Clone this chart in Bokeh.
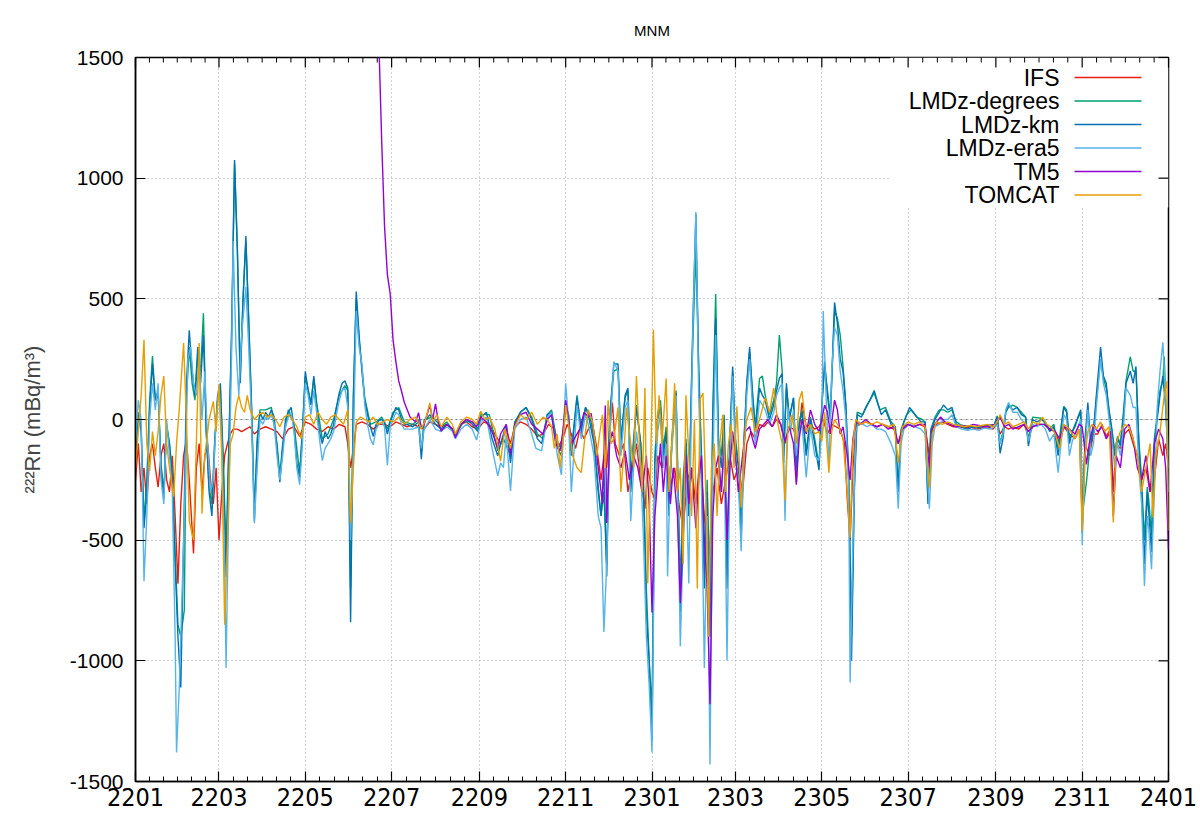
from bokeh.plotting import figure
from bokeh.models import Range1d, FixedTicker, Span, BoxAnnotation, Label
from bokeh.embed import file_html
from bokeh.resources import INLINE

TITLE = "MNM"
Y_LABEL = "²²²Rn (mBq/m³)"
# x is days since 2022-01-01
TICK_DAYS = [0, 59, 120, 181, 243, 304, 365, 424, 485, 546, 608, 669, 730]
TICK_LABELS = ["2201", "2203", "2205", "2207", "2209", "2211", "2301",
               "2303", "2305", "2307", "2309", "2311", "2401"]
Y_TICKS = [-1500, -1000, -500, 0, 500, 1000, 1500]
Y_TICK_LABELS = ["-1500", "-1000", "-500", "0", "500", "1000", "1500"]
NAMES = ["IFS", "LMDz-degrees", "LMDz-km", "LMDz-era5", "TM5", "TOMCAT"]
COLORS = ["#e51e10", "#009e73", "#0072b2", "#56b4e9", "#9400d3", "#e69f00"]

IFS = [
(0,-250),(2,-100),(4,-300),(6,-200),(8,-350),(10,-150),(12,-100),(14,-200),(16,-280),(18,-150),
(20,-100),(22,-250),(24,-300),(26,-150),(28,-400),(30,-680),(32,-350),(34,-150),(36,-80),(38,-250),
(41,-555),(43,-200),(45,-100),(47,-300),(49,-150),(51,-100),(53,-250),(55,-350),(57,-200),(59,-500),
(61,-300),(63,-150),(65,-100),(67,-60),(69,-40),(72,-40),(75,-50),(78,-40),(81,-30),(84,-60),
(88,-40),(92,-30),(96,-40),(100,-50),(104,-80),(108,-40),(112,-30),(116,-70),(120,-10),(124,-20),
(128,-40),(132,-50),(136,-30),(140,-40),(144,-20),(148,-30),(150,-100),(152,-200),(154,-120),(156,-20),
(160,-10),(164,-20),(168,-40),(172,-20),(176,-20),(180,-30),(184,-10),(188,-20),(192,-30),(196,-20),
(200,-30),(204,-40),(208,-10),(212,-20),(216,-30),(220,-20),(224,-40),(226,-60),(230,-20),(234,-10),
(238,-30),(242,-40),(246,-10),(250,-20),(254,-60),(258,-100),(262,-40),(265,-100),(268,-30),(272,-10),
(276,-20),(280,-40),(284,-70),(288,-60),(292,-20),(296,-40),(299,-110),(302,-80),(305,-20),(308,-60),
(311,-120),(314,-40),(317,-80),(320,-40),(323,-20),(326,-120),(329,-250),(331,-150),(333,-200),(335,-50),
(337,70),(339,-100),(342,-150),(345,-100),(348,-300),(351,-200),(354,-100),(357,-250),(360,-370),(362,-200),
(365,-300),(367,-330),(369,-150),(372,-200),(375,-100),(378,-280),(381,-200),(384,-350),(387,-450),(390,-250),
(393,-200),(396,-350),(399,-150),(402,-400),(405,-600),(408,-300),(411,-200),(414,-350),(417,-250),(420,-150),
(423,-250),(426,-200),(429,-300),(432,-100),(435,-50),(438,-80),(441,-20),(444,-30),(447,-10),(450,-30),
(453,0),(456,-20),(459,-100),(462,-30),(465,-40),(468,-100),(471,70),(474,-30),(477,-20),(480,-40),
(483,-30),(486,0),(489,-60),(492,-20),(495,-30),(498,-40),(501,-100),(503,-330),(505,-500),(507,-200),
(509,-30),(512,-20),(516,-10),(520,-20),(524,-30),(528,-20),(532,-30),(536,-40),(539,-100),(542,-30),
(546,-20),(550,-30),(554,-20),(558,-30),(561,-150),(563,-40),(566,-20),(570,-10),(574,-20),(578,-30),
(582,-30),(586,-35),(590,-30),(594,-40),(598,-35),(602,-30),(606,-40),(609,-20),(611,-60),(614,-30),
(617,-40),(620,-30),(624,-40),(628,-20),(631,-70),(634,-30),(638,-20),(642,-20),(646,-40),(650,-50),
(653,-100),(656,-30),(660,-60),(664,-80),(667,-40),(669,-420),(671,-100),(674,-150),(677,-60),(680,-60),
(683,-20),(686,-70),(689,-40),(691,-300),(693,-100),(696,-120),(699,-60),(702,-40),(705,-100),(708,-150),
(711,-250),(714,-200),(717,-300),(720,-250),(723,-80),(726,-150),(728,-100),(730,-200),
]

LMDZ_DEGREES = [
(0,-120),(2,30),(4,-30),(6,-420),(8,-250),(10,80),(12,263),(14,80),(16,100),(18,-180),
(20,-300),(22,-20),(24,-100),(26,-220),(28,-550),(30,-850),(32,-900),(34.5,-789),(36,100),(38,300),
(40,150),(42,80),(44,260),(46,200),(48,440),(50,-50),(52,-280),(54,-350),(56,-80),(58,80),
(60,120),(62,-150),(64,-550),(66,-100),(68,350),(70,1060),(72,700),(74,180),(76,500),(78,740),
(80,420),(82,60),(84,-380),(86,-80),(88,40),(92,40),(96,50),(100,-100),(102,-230),(104,-100),
(108,40),(112,-20),(116,-220),(118,-40),(120,180),(124,70),(126,170),(128,70),(132,-80),(136,-60),
(140,0),(144,100),(148,140),(150,120),(152,-700),(154,100),(156,500),(158,330),(160,220),(162,90),
(166,-20),(170,-10),(174,10),(178,-40),(182,30),(186,50),(190,-10),(196,-20),(200,0),(202,-130),
(204,0),(210,10),(216,-30),(220,-10),(226,-60),(232,-10),(238,-10),(242,-40),(244,20),(250,20),
(256,-130),(260,-80),(265,-150),(268,-10),(272,30),(276,50),(280,10),(284,-60),(288,-80),(291,20),
(294,40),(298,-100),(301,-120),(304,60),(306,20),(308,-130),(312,100),(315,-40),(318,50),(321,20),
(324,-80),(327,-280),(329,-400),(331,-300),(333,-600),(335,0),(338,200),(341,210),(343,-80),(346,90),
(348,120),(350,-250),(352,-80),(354,60),(357,-100),(359,-250),(361,-700),(363,-1000),(365,-1200),(367,-150),
(369,20),(371,80),(373,-120),(375,-30),(377,-350),(379,-80),(382,120),(385,-700),(387,-250),(389,-80),
(391,-350),(393,160),(394,350),(396,700),(398,220),(400,-150),(402,-600),(404,-250),(406,-800),(408,50),
(410,520),(412,-80),(414,-150),(416,20),(418,-600),(420,-80),(422,200),(424,-80),(426,-180),(428,-450),
(430,-80),(432,150),(434,280),(436,120),(438,-30),(441,170),(443,180),(445,100),(448,20),(451,80),
(453,150),(455,350),(457,200),(458,-150),(460,130),(462,10),(465,90),(467,-260),(469,-10),(471,40),
(474,-130),(477,10),(480,-80),(483,-190),(485,60),(487,220),(489,120),(491,20),(494,450),(496,420),
(498,350),(500,220),(502,60),(504,-230),(506,-900),(508,-250),(510,30),(514,20),(518,70),(522,110),
(526,40),(530,50),(534,-10),(537,-30),(539,-280),(541,-40),(545,20),(548,40),(552,10),(556,0),
(558,-10),(560,-330),(562,-40),(565,10),(568,40),(571,40),(574,30),(577,40),(580,-10),(584,-25),
(590,-30),(596,-30),(602,-25),(607,-20),(609,15),(611,-100),(613,-50),(615,30),(617,50),(620,60),
(623,50),(626,30),(629,10),(631,-90),(634,10),(640,5),(646,-40),(649,-20),(652,-120),(654,-30),
(656,55),(658,40),(660,-80),(664,-20),(668,30),(669,-400),(672,-260),(675,-80),(677,-40),(679,80),
(682,250),(684,170),(686,130),(688,40),(690,-40),(692,-130),(694,-70),(696,-100),(698,20),(700,160),
(703,260),(705,200),(707,200),(709,-80),(711,-250),(713,-500),(715,-280),(716,-330),(718,-480),(720,-80),
(722,20),(724,120),(726,160),(727,260),(728,80),(730,-150),
]

LMDZ_KM = [
(0,-150),(2,20),(4,-50),(6,-450),(8,-300),(10,50),(12,230),(14,80),(16,120),(18,-200),
(20,-330),(22,-30),(24,-100),(26,-250),(28,-600),(30,-900),(32,-1110),(34,-500),(36,150),(38,370),
(40,200),(42,100),(44,300),(46,150),(48,350),(50,-50),(52,-300),(54,-400),(56,-100),(58,100),
(60,150),(62,-200),(64,-650),(66,-100),(68,400),(70,1075),(72,700),(74,150),(76,500),(78,760),
(80,400),(82,50),(84,-420),(86,-100),(88,30),(90,0),(92,30),(94,10),(96,40),(98,10),
(100,-120),(102,-260),(104,-120),(106,0),(108,30),(110,50),(112,-30),(114,-180),(116,-240),(118,-50),
(120,200),(122,120),(124,60),(126,180),(128,60),(130,-50),(132,-100),(134,-50),(136,-80),(138,-60),
(140,-20),(142,50),(144,110),(146,150),(148,160),(150,130),(152,-840),(154,100),(156,530),(158,350),
(160,200),(162,80),(164,20),(166,-30),(168,-70),(170,-20),(172,-5),(174,0),(176,-10),(178,-60),
(180,-10),(182,20),(184,50),(186,40),(188,0),(190,-20),(192,-20),(196,-30),(200,-10),(202,-165),
(204,-10),(208,20),(212,-20),(216,-40),(220,-20),(224,-40),(226,-70),(230,-20),(234,0),(238,-20),
(242,-50),(244,10),(248,30),(252,-80),(256,-150),(258,-100),(262,-20),(265,-180),(268,-20),(272,30),
(276,50),(280,0),(284,-80),(287,-100),(291,20),(294,30),(298,-115),(301,-150),(304,60),(306,20),
(308,-150),(312,90),(315,-50),(318,50),(320,20),(324,-100),(327,-300),(329,-400),(331,-200),(333,-650),
(335,0),(338,230),(341,230),(343,-100),(346,100),(348,130),(350,-300),(352,-100),(354,50),(357,-100),
(359,-300),(361,-800),(363,-1000),(365,-1330),(367,-200),(369,0),(371,50),(373,-150),(375,-50),(377,-400),
(379,-100),(382,110),(385,-800),(387,-300),(389,-100),(391,-400),(393,180),(394,430),(396,850),(398,200),
(400,-200),(402,-700),(404,-300),(406,-900),(408,0),(410,420),(412,-100),(414,-200),(416,0),(418,-700),
(420,-100),(422,220),(424,-100),(426,-200),(428,-500),(430,-100),(432,150),(434,300),(436,100),(438,-50),
(441,130),(443,100),(445,80),(448,0),(451,60),(453,120),(455,170),(457,190),(458,-180),(460,150),
(462,0),(465,90),(467,-200),(469,-20),(471,30),(474,-150),(477,0),(480,-100),(483,-210),(485,50),
(487,240),(489,100),(491,0),(494,485),(496,400),(498,250),(500,200),(502,50),(504,-250),(506,-1000),
(508,-300),(510,20),(513,10),(516,50),(519,80),(522,120),(524,80),(527,20),(530,40),(534,-20),
(537,-40),(539,-300),(541,-60),(543,-10),(547,50),(551,20),(555,-10),(558,-10),(560,-350),(562,-50),
(565,0),(568,30),(571,60),(574,40),(577,50),(580,-20),(584,-30),(588,-40),(592,-30),(596,-35),
(600,-25),(604,-30),(607,-20),(609,10),(611,-140),(613,-80),(615,30),(617,60),(620,40),(623,50),
(626,20),(629,10),(631,-110),(634,0),(637,-10),(640,0),(643,-10),(646,-50),(649,-30),(652,-150),
(654,-50),(656,50),(658,30),(660,-100),(662,-50),(664,-30),(666,10),(668,40),(669,-470),(671,-80),
(673,70),(675,-100),(677,-50),(679,100),(682,300),(684,180),(686,150),(688,30),(690,-50),(692,-150),
(694,-80),(696,-110),(698,0),(700,150),(703,200),(705,150),(707,220),(709,-100),(711,-290),(713,-600),
(715,-300),(716,-380),(718,-550),(720,-100),(722,0),(724,100),(726,180),(728,50),(730,-200),
]

LMDZ_ERA5 = [
(0,-100),(2,80),(4,0),(6,-670),(8,-400),(10,0),(12,150),(14,40),(16,150),(18,-250),
(20,-350),(22,0),(24,-150),(26,-300),(28,-900),(29,-1380),(31,-1100),(33,-700),(35,-300),(37,250),
(39,300),(41,150),(43,100),(45,250),(47,0),(49,200),(51,-100),(53,-300),(55,-250),(57,0),
(59,145),(61,-100),(63,-600),(64,-1030),(66,-300),(68,300),(69,740),(71,300),(73,100),(75,350),
(78,550),(80,300),(82,0),(84,-430),(86,-200),(88,0),(90,-20),(92,10),(94,0),(96,20),
(98,-20),(100,-150),(102,-250),(104,-150),(106,-30),(108,10),(110,30),(112,-50),(114,-200),(116,-270),
(118,-100),(120,150),(122,100),(124,20),(126,120),(128,30),(130,-80),(132,-170),(134,-120),(136,-100),
(138,-80),(140,-50),(142,20),(144,80),(146,120),(148,130),(150,50),(152,-500),(154,-100),(156,450),
(158,300),(160,230),(162,60),(164,-20),(166,-80),(168,-105),(170,-40),(172,-20),(174,-10),(176,-30),
(178,-190),(180,-30),(182,0),(184,30),(186,20),(188,-20),(190,-40),(192,-40),(196,-40),(200,-30),
(202,-120),(204,-40),(208,0),(212,-40),(216,-50),(220,-30),(224,-50),(226,-80),(230,-40),(234,-20),
(238,-40),(241,-85),(244,-10),(248,10),(252,-120),(256,-234),(258,-180),(260,-200),(262,-60),(265,-296),
(268,-40),(272,0),(276,10),(280,-60),(283,-120),(287,-130),(291,10),(294,30),(298,-145),(301,-230),
(304,150),(306,0),(308,-300),(312,60),(315,-80),(318,20),(320,-20),(324,-150),(327,-400),(329,-450),
(331,-880),(333,-600),(335,-100),(338,240),(341,200),(343,-150),(346,50),(348,80),(350,-420),(352,-200),
(354,-50),(357,-200),(359,-500),(361,-900),(363,-1100),(365,-1380),(367,-300),(369,-50),(371,20),(373,-200),
(375,-100),(376,-650),(378,-200),(382,100),(385,-940),(387,-500),(389,-200),(391,-680),(393,100),(394,400),
(396,860),(398,100),(400,-300),(402,-1030),(404,-400),(406,-1430),(408,-200),(410,350),(412,-200),(414,-300),
(416,-100),(418,-1000),(420,-200),(422,180),(424,-150),(426,-250),(428,-546),(430,-150),(432,100),(434,250),
(436,50),(438,-100),(441,80),(443,60),(445,40),(448,-20),(451,30),(453,100),(455,130),(457,150),
(459,-420),(461,50),(463,-50),(465,40),(467,-150),(469,-50),(471,-20),(474,-240),(477,-30),(480,-150),
(483,-170),(485,-60),(486,450),(488,100),(490,-200),(492,200),(494,380),(496,350),(498,200),(500,120),
(502,0),(504,-300),(505,-1090),(507,-500),(509,-50),(511,-10),(514,-20),(517,-30),(520,-20),(524,-40),
(527,-40),(530,-50),(534,-100),(537,-150),(539,-370),(541,-100),(543,-40),(547,-20),(551,-30),(555,-40),
(558,-60),(561,-370),(563,-100),(565,-30),(568,-20),(571,0),(574,0),(577,20),(580,-30),(584,-40),
(588,-45),(592,-40),(596,-45),(600,-35),(604,-40),(607,-30),(609,-20),(611,-100),(613,-60),(615,40),
(617,70),(620,30),(623,30),(626,0),(629,-20),(631,-90),(634,-20),(637,-30),(640,-20),(643,-40),
(646,-90),(649,-60),(652,-220),(654,-100),(656,20),(658,0),(660,-150),(662,-90),(664,-60),(666,-30),
(668,0),(669,-520),(671,-150),(673,40),(675,-150),(677,-100),(679,50),(682,250),(684,150),(686,100),
(688,0),(690,-80),(692,-200),(694,-100),(696,-150),(698,-50),(700,130),(703,100),(705,50),(707,50),
(709,-200),(711,-350),(713,-690),(715,-400),(716,-450),(718,-620),(720,-300),(722,50),(724,200),(726,320),
(728,100),(730,-300),
]

TM5 = [
(172,1560),(174,1150),(176,800),(178,600),(180,520),(182,330),(184,240),(186,160),(188,117),(190,70),
(192,40),(194,10),(196,0),(198,-10),(200,28),(202,-34),(204,-20),(208,60),(210,0),(212,65),
(214,-10),(216,-48),(220,-20),(224,-40),(226,-76),(230,-20),(234,0),(238,-10),(241,-30),(244,10),
(248,-10),(252,-50),(256,-120),(258,-60),(262,-20),(265,-145),(268,-20),(272,20),(276,30),(280,-20),
(284,-40),(288,-60),(291,0),(294,20),(297,-100),(300,-130),(302,-50),(304,80),(306,0),(308,-100),
(311,-70),(314,-40),(317,30),(320,10),(322,25),(325,-100),(328,-250),(330,-350),(332,58),(333,-429),
(335,-100),(337,-50),(340,-150),(343,-200),(346,-130),(349,-250),(352,-150),(355,-200),(358,-300),(361,-150),
(363,-350),(365,-800),(367,-400),(369,-250),(371,-100),(373,-300),(375,-150),(378,-350),(380,-200),(383,-400),
(385,-760),(387,-500),(389,-150),(391,-350),(393,-200),(396,-450),(398,-250),(400,-150),(402,-500),(404,-700),
(406,-1180),(408,-400),(410,-200),(412,-150),(414,-300),(416,-100),(418,-500),(420,-200),(422,-50),(424,-150),
(426,-300),(428,-200),(431,-50),(434,-30),(436,-80),(438,-120),(441,-40),(444,-20),(447,0),(450,-30),
(453,20),(456,-20),(459,-90),(462,-30),(465,-100),(467,-270),(469,-80),(471,0),(474,-60),(477,40),
(480,-20),(483,-50),(485,0),(487,60),(489,30),(491,-60),(494,80),(496,40),(498,-60),(500,-30),
(503,-150),(505,-250),(507,-80),(509,-10),(512,-20),(516,0),(520,-20),(524,-30),(528,-20),(532,-40),
(536,-30),(539,-100),(542,-40),(546,-20),(550,-30),(554,-20),(558,-20),(561,-200),(563,-40),(566,-10),
(569,10),(572,-10),(576,-20),(580,-30),(584,-25),(588,-30),(592,-20),(596,-25),(600,-30),(604,-25),
(608,-20),(611,10),(614,-30),(617,-20),(620,-40),(624,-30),(628,-20),(631,-50),(634,-30),(638,-20),
(642,-20),(646,-40),(650,-50),(653,-80),(656,-30),(660,-40),(664,-60),(667,-20),(669,-30),(672,-186),
(674,-100),(677,-20),(680,-50),(683,-30),(686,-80),(689,-50),(691,-400),(693,-150),(696,-200),(699,-40),
(702,-20),(705,-80),(708,-200),(711,-250),(714,-150),(717,-300),(720,-100),(723,-40),(726,-80),(728,-200),
(730,-540),
]

TOMCAT = [
(0,-200),(2,-50),(4,100),(6,330),(8,-100),(10,-213),(12,-50),(14,-150),(16,-50),(18,100),
(20,180),(22,-100),(24,-200),(27,-320),(29,-100),(31,50),(34,317),(36,0),(38,-420),(41,-500),
(43,-100),(45,317),(47,-390),(49,-150),(52,0),(55,75),(57,-50),(59,145),(61,-150),(63,-850),
(65,-500),(67,-100),(69,-60),(71,50),(73,100),(75,50),(77,30),(79,100),(81,40),(84,0),
(87,20),(90,30),(93,10),(96,20),(99,0),(102,-30),(105,10),(108,20),(111,0),(114,-30),
(117,-80),(120,10),(123,20),(126,-20),(129,30),(132,0),(135,-20),(138,10),(141,20),(144,0),
(147,-20),(150,40),(152,-430),(154,-200),(156,-10),(159,10),(162,0),(165,-10),(168,10),(171,-20),
(175,-10),(178,0),(182,-10),(186,10),(190,-20),(194,0),(198,10),(202,-40),(205,0),(208,69),
(210,-10),(213,20),(216,-30),(220,10),(224,-20),(226,-60),(230,-10),(234,10),(238,0),(241,-20),
(244,34),(247,0),(250,10),(254,-40),(258,-172),(261,-40),(265,-120),(268,-30),(272,20),(276,0),
(280,30),(284,-20),(288,10),(291,0),(294,-30),(296,-120),(298,-60),(300,-200),(302,-100),(304,60),
(306,-20),(309,-150),(312,-200),(315,-220),(318,-50),(320,40),(323,-10),(326,-150),(328,-60),(330,20),
(332,-200),(334,80),(336,-100),(338,-80),(341,50),(343,-300),(345,-150),(347,50),(350,-100),(352,-200),
(354,180),(356,-80),(358,-300),(360,130),(362,-680),(364,-200),(366,372),(368,-100),(370,100),(372,-100),
(375,170),(377,-300),(379,-100),(381,150),(383,-300),(385,-200),(387,-600),(389,100),(391,-150),(393,-400),
(395,0),(397,-700),(399,85),(401,110),(403,-300),(405,-900),(407,-200),(409,-100),(411,-400),(413,-100),
(415,20),(417,-300),(419,-100),(421,-20),(423,-200),(425,55),(428,-365),(430,-100),(432,0),(435,50),
(438,-50),(441,0),(445,90),(448,30),(451,130),(454,-20),(457,-100),(459,-337),(461,-50),(464,20),
(467,-100),(469,80),(471,117),(474,-50),(477,-20),(480,-60),(483,-50),(485,-90),(487,30),(490,-220),
(492,-50),(494,0),(497,-30),(500,-80),(503,-300),(505,-490),(507,-100),(509,0),(512,-20),(516,-10),
(520,-20),(524,-10),(528,-20),(532,-30),(536,-20),(539,-180),(542,-30),(546,-10),(550,-20),(554,-10),
(558,-30),(561,-282),(563,-60),(566,-10),(570,-20),(574,-10),(578,-20),(582,-25),(586,-30),(590,-25),
(594,-30),(598,-25),(602,-20),(606,-30),(609,-10),(611,20),(614,-20),(617,-10),(620,-30),(624,-20),
(628,-10),(631,-40),(634,-10),(638,-20),(641,10),(644,-20),(647,-30),(650,-60),(653,-120),(656,-20),
(660,-40),(664,-80),(667,-40),(669,-461),(671,-150),(673,-50),(676,-20),(679,-40),(682,-10),(685,-50),
(688,-30),(691,-427),(693,-100),(696,-50),(699,-20),(702,-30),(705,-80),(708,-150),(711,-300),(714,-200),
(717,-100),(719,-406),(721,-150),(724,-50),(727,100),(729,160),(730,-460),
]

SERIES = [IFS, LMDZ_DEGREES, LMDZ_KM, LMDZ_ERA5, TM5, TOMCAT]

X0, X1 = TICK_DAYS[0], TICK_DAYS[-1]
Y0, Y1 = Y_TICKS[0], Y_TICKS[-1]
FW, FH = 1033.0, 724.0          # frame size in pixels
FONT = "Liberation Sans"
XFONT = "DejaVu Sans Condensed, Liberation Sans Narrow, Liberation Sans"

p = figure(width=1200, height=819, x_range=Range1d(X0, X1), y_range=Range1d(Y0, Y1),
           output_backend="svg", toolbar_location=None,
           min_border_left=135, min_border_right=32, min_border_top=57, min_border_bottom=38)
p.background_fill_color = "white"
p.border_fill_color = "white"
p.outline_line_color = "black"
p.outline_line_width = 1.5

p.title.text = TITLE
p.title.align = "center"
p.title.text_font = FONT
p.title.text_font_size = "15px"
p.title.text_font_style = "normal"
p.title.text_color = "black"
p.title.standoff = 38


def fx(px):
    return X0 + (X1 - X0) * px / FW


def fy(py):
    return Y1 - (Y1 - Y0) * py / FH


minor = []
for a, b in zip(TICK_DAYS[:-1], TICK_DAYS[1:]):
    for k in range(1, 6):
        minor.append(a + (b - a) * k / 6.0)
xticker = FixedTicker(ticks=TICK_DAYS, minor_ticks=minor)
yticker = FixedTicker(ticks=Y_TICKS)

xa = p.xaxis[0]
xa.ticker = xticker
xa.major_label_overrides = {d: lab for d, lab in zip(TICK_DAYS, TICK_LABELS)}
xa.major_label_text_font = XFONT
xa.major_label_text_font_size = "25px"
xa.major_label_standoff = 6
ya = p.yaxis[0]
ya.ticker = yticker
ya.major_label_overrides = {t: lab for t, lab in zip(Y_TICKS, Y_TICK_LABELS)}
ya.major_label_text_font = FONT
ya.major_label_text_font_size = "21px"
ya.major_label_standoff = 12
ya.axis_label = Y_LABEL
ya.axis_label_text_font = FONT
ya.axis_label_text_font_size = "22px"
ya.axis_label_text_font_style = "normal"
ya.axis_label_standoff = 22

xa.minor_tick_in = 5
xa.minor_tick_out = 0
ya.minor_tick_in = 0
ya.minor_tick_out = 0
for ax in [xa, ya]:
    ax.major_tick_in = 10
    ax.major_tick_out = 0
    ax.axis_line_color = "black"
    ax.axis_line_width = 1.5
    ax.major_tick_line_color = "black"
    ax.major_tick_line_width = 1.2
    ax.minor_tick_line_color = "black"
    ax.major_label_text_color = "black"

p.xgrid[0].ticker = xticker
p.ygrid[0].ticker = yticker
for g in [p.xgrid[0], p.ygrid[0]]:
    g.grid_line_color = "#a0a0a0"
    g.grid_line_dash = "1 3"
    g.grid_line_width = 1

p.add_layout(Span(location=0, dimension="width", line_color="#808080",
                  line_dash="2 3", line_width=1, level="underlay"))

for data, color in zip(SERIES, COLORS):
    xs = [d for d, v in data]
    ys = [v for d, v in data]
    p.line(xs, ys, line_color=color, line_width=1.4)

# mirrored tick marks on the top and right frame edges (gnuplot style)
dy_major = 10 * (Y1 - Y0) / FH
dy_minor = 5 * (Y1 - Y0) / FH
dx_major = 10 * (X1 - X0) / FW
p.segment(x0=TICK_DAYS, y0=[Y1] * len(TICK_DAYS), x1=TICK_DAYS,
          y1=[Y1 - dy_major] * len(TICK_DAYS), line_color="black", line_width=1.2, level="overlay")
p.segment(x0=minor, y0=[Y1] * len(minor), x1=minor,
          y1=[Y1 - dy_minor] * len(minor), line_color="black", line_width=1, level="overlay")
p.segment(x0=[X1] * len(Y_TICKS), y0=Y_TICKS, x1=[X1 - dx_major] * len(Y_TICKS),
          y1=Y_TICKS, line_color="black", line_width=1.2, level="overlay")

# legend (gnuplot style: right-aligned text, sample line to the right)
p.add_layout(BoxAnnotation(left=fx(755), right=X1, bottom=fy(150), top=Y1,
                           fill_color="white", fill_alpha=1.0, line_color=None,
                           level="annotation"))
for i, (name, color) in enumerate(zip(NAMES, COLORS)):
    yy = fy(20 + 23.5 * i)
    p.add_layout(Label(x=fx(924), y=yy, text=name, text_align="right",
                       text_baseline="middle", text_font=FONT, text_font_size="23px",
                       text_color="black", level="overlay"))
    p.line([fx(939), fx(1006)], [yy, yy], line_color=color, line_width=1.4, level="overlay")

open("out.html", "w").write(file_html(p, INLINE))
